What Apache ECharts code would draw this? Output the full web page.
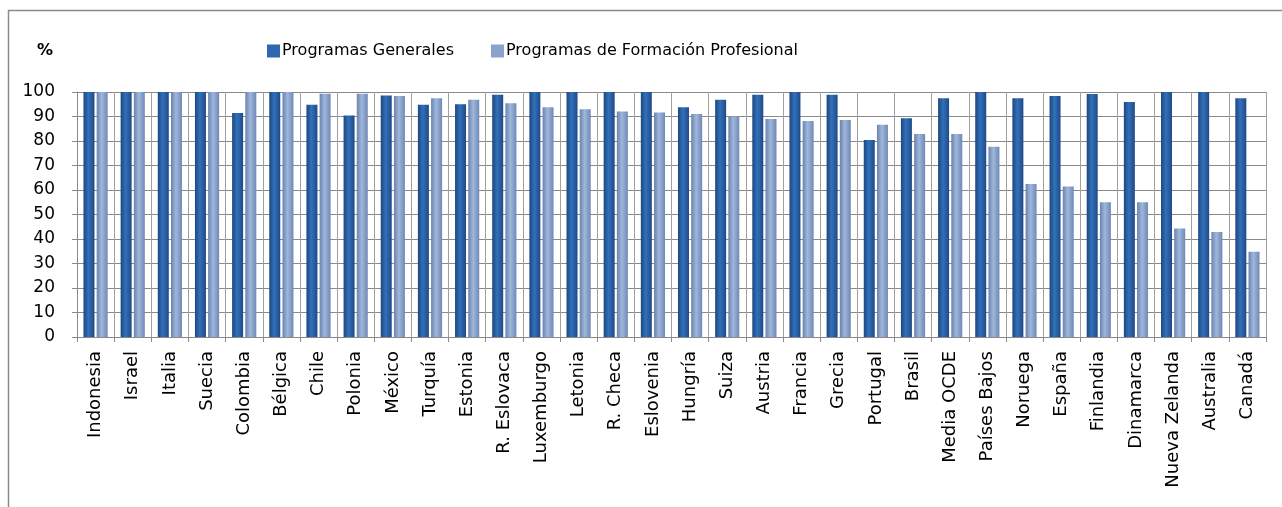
<!DOCTYPE html>
<html>
<head>
<meta charset="utf-8">
<script src="https://cdn.jsdelivr.net/npm/echarts@6/dist/echarts.min.js"></script>
<style>
html,body{margin:0;padding:0;background:#fff;}
#c{width:1282px;height:507px;}
</style>
</head>
<body>
<div id="c"></div>
<script>
const categories = ["Indonesia","Israel","Italia","Suecia","Colombia","Bélgica","Chile","Polonia","México","Turquía","Estonia","R. Eslovaca","Luxemburgo","Letonia","R. Checa","Eslovenia","Hungría","Suiza","Austria","Francia","Grecia","Portugal","Brasil","Media OCDE","Países Bajos","Noruega","España","Finlandia","Dinamarca","Nueva Zelanda","Australia","Canadá"];
const generales = [100,100,100,100,91.4,100,94.8,90.4,98.6,94.8,95,98.9,100,100,100,100,93.8,96.8,98.9,100,98.9,80.4,89.3,97.5,100,97.5,98.4,99.2,95.9,100,100,97.5];
const profesional = [100,100,100,100,100,100,99.3,99.3,98.4,97.5,96.8,95.4,93.8,93,92,91.6,91,90,89,88.2,88.6,86.6,82.9,82.9,77.7,62.5,61.4,55,55,44.3,42.9,34.8];
const seriesNames = ["Programas Generales","Programas de Formación Profesional"];
const yTicks = [0,10,20,30,40,50,60,70,80,90,100];

const chart = echarts.init(document.getElementById('c'), null, {renderer:'canvas'});
const darkGrad = new echarts.graphic.LinearGradient(0,0,1,0,[
  {offset:0,color:'#1d477f'},{offset:0.45,color:'#3270bb'},{offset:1,color:'#1f4a86'}]);
const lightGrad = new echarts.graphic.LinearGradient(0,0,1,0,[
  {offset:0,color:'#6a83ad'},{offset:0.45,color:'#9fb7dc'},{offset:1,color:'#7089b4'}]);
const font = "'DejaVu Sans', Verdana, sans-serif";
chart.setOption({
  animation:false,
  backgroundColor:'#fff',
  graphic:[
    {type:'rect',shape:{x:8.5,y:10.5,width:1400,height:600},style:{fill:'none',stroke:'#8a8a8a',lineWidth:1.5},z:-1},
    {type:'text',left:37,top:43,style:{text:'%',font:"bold 16px 'DejaVu Sans', Verdana, sans-serif",fill:'#000'}}
  ],
  legend:[
    {data:[{name:seriesNames[0],itemStyle:{color:'#2f68b0'}}],
     left:262, top:38, icon:'rect', itemWidth:13, itemHeight:13,
     textStyle:{fontFamily:font,fontSize:16,color:'#000',padding:[0,0,0,-3]}},
    {data:[{name:seriesNames[1],itemStyle:{color:'#8aa3cc'}}],
     left:486, top:38, icon:'rect', itemWidth:13, itemHeight:13,
     textStyle:{fontFamily:font,fontSize:16,color:'#000',padding:[0,0,0,-3]}}
  ],
  grid:{left:77,right:16,top:92,bottom:170,containLabel:false},
  xAxis:{
    type:'category', data:categories,
    axisLine:{show:true,lineStyle:{color:'#8a8a8a',width:1}},
    axisTick:{show:true,alignWithLabel:false,length:5,lineStyle:{color:'#8a8a8a'}},
    splitLine:{show:true,lineStyle:{color:'#a0a0a0',width:1}},
    axisLabel:{rotate:90,interval:0,margin:14,fontFamily:font,fontSize:18,color:'#000'}
  },
  yAxis:{
    type:'value', min:0, max:100, interval:10,
    axisLine:{show:true,lineStyle:{color:'#8a8a8a',width:1}},
    axisTick:{show:true,length:5,lineStyle:{color:'#8a8a8a'}},
    splitLine:{show:true,lineStyle:{color:'#8a8a8a',width:1}},
    axisLabel:{margin:22,fontFamily:font,fontSize:17,color:'#000',
      formatter:function(v){return yTicks.indexOf(v)>=0?String(v):'';}}
  },
  series:[
    {name:seriesNames[0],type:'bar',data:generales,barWidth:11,barGap:'20%',
     itemStyle:{color:darkGrad}},
    {name:seriesNames[1],type:'bar',data:profesional,barWidth:11,
     itemStyle:{color:lightGrad}}
  ]
});
</script>
</body>
</html>
